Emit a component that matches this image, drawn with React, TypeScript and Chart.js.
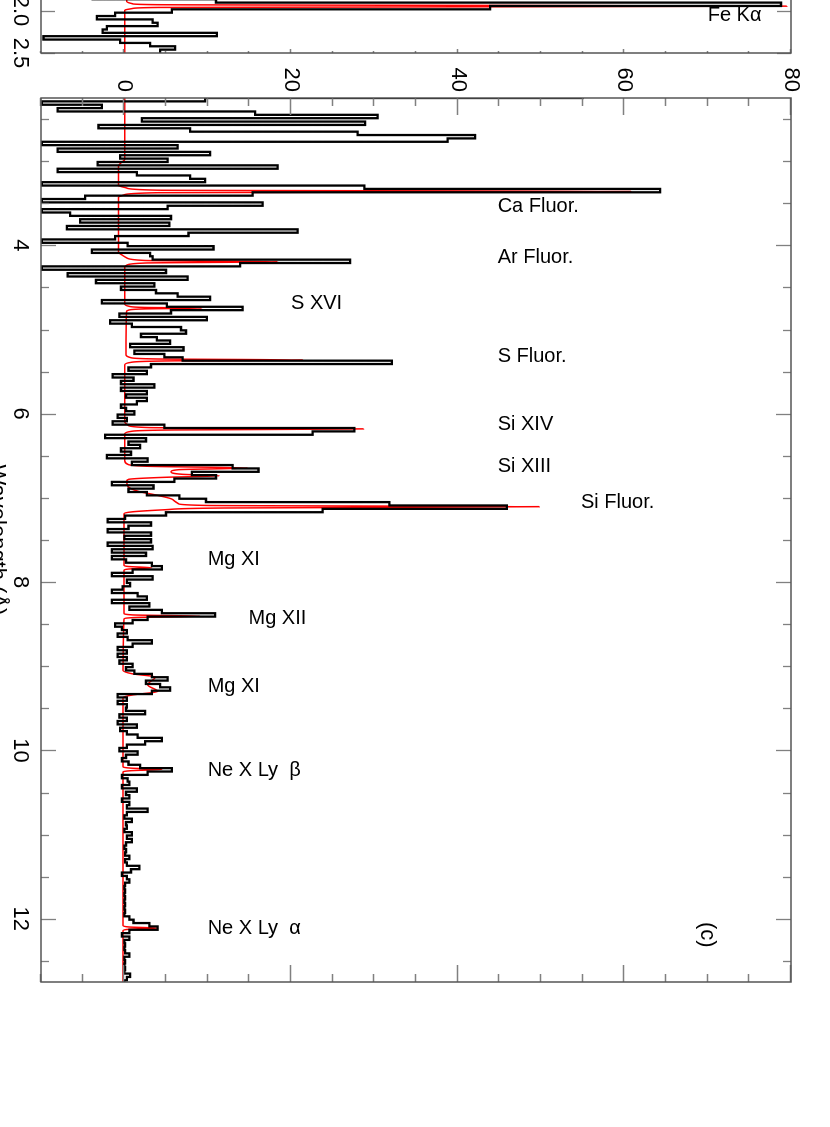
import React, { useEffect, useRef } from 'react';
import { Chart, registerables } from 'chart.js';

Chart.register(...registerables);

// ---------------- data ----------------
const BIN_WIDTH = 0.04; // Angstrom per histogram bin

// Panel (c): observed counts per 0.04 A bin, one array per segment
const SEG_START = [2.21, 3.25, 4.25, 5.25, 6.25, 7.25, 8.25, 9.25, 10.25, 11.25, 12.25];
const COUNTS_2 = [55, 9.7, -9.9, -2.7, -8.0, 15.7, 30.4, 2.1, 28.9, -3.1, 7.9, 28.0, 42.1, 38.8, -9.9, 6.4, -8.0, 10.3, -0.5, 5.2, -3.2, 18.4, -8.0, 1.5, 7.9, 9.7];
const COUNTS_3 = [-9.9, 28.8, 64.3, 15.4, -4.7, -9.9, 16.6, 5.2, -9.9, -6.5, 5.6, -5.3, 5.4, -6.9, 20.8, 7.7, -1.1, -9.9, 0.4, 10.7, -3.9, 3.1, 3.4, 27.1, 13.9];
const COUNTS_4 = [-9.9, 5.0, -6.8, 7.6, -3.4, 3.6, -0.4, 3.8, 6.4, 10.3, -2.7, 5.1, 14.2, 5.6, -0.6, 9.9, -1.7, 0.9, 6.8, 7.4, 2.0, 3.9, 5.5, 0.7, 7.1];
const COUNTS_5 = [1.2, 4.8, 7.0, 32.1, 3.2, 0.5, 2.7, -1.4, 1.1, -0.4, 3.6, -0.4, 2.7, 0.2, 2.7, 1.5, -0.4, 0.2, 1.2, -0.8, 0.3, -1.4, 4.8, 27.6, 22.6];
const COUNTS_6 = [-2.3, 2.6, 0.5, 1.9, -0.4, 0.8, -2.1, 2.8, 0.9, 13.0, 16.1, 8.1, 11.0, 6.0, -1.5, 3.5, 0.5, 2.7, 6.6, 9.8, 31.8, 45.9, 23.8, 5.0, 0.1];
const COUNTS_7 = [-2.0, 3.2, 0.5, -2.0, 3.2, 0.0, 3.2, -2.0, 3.4, -1.5, 2.6, -1.5, 0.2, 3.3, 4.5, 1.0, -1.5, 3.4, 0.3, 0.7, -0.2, -1.5, 1.6, 2.7, -1.5];
const COUNTS_8 = [3.0, 0.6, 4.5, 10.9, 2.8, 1.0, -1.1, -0.3, 0.3, -0.8, 0.4, 3.3, 1.0, -0.8, 0.3, -0.8, 0.3, -0.6, 1.0, 0.2, 1.2, 3.3, 5.2, 2.6, 4.3];
const COUNTS_9 = [5.5, 3.3, -0.8, 0.3, -0.8, 0.3, 0.2, 2.5, -0.6, 0.3, -0.8, 1.5, -0.5, 0.3, 1.6, 4.5, 2.5, 0.3, -0.6, 1.6, 0.2, -0.3, 0.5, 1.9, 5.7];
const COUNTS_10 = [2.8, -0.3, 0.4, 0.6, -0.3, 1.5, 0.2, 0.6, -0.3, 0.6, 0.3, 2.8, 0.3, 0.0, 0.9, 0.2, 0.3, 0.0, 0.9, 0.3, 0.9, 0.2, 0.0, 0.2, 0.1];
const COUNTS_11 = [0.6, 0.1, 0.3, 1.8, 0.8, -0.3, 0.3, 0.6, 0.1, 0.0, 0.1, 0.0, 0.1, 0.0, 0.1, 0.0, 0.1, 0.0, 0.6, 1.1, 3.0, 4.0, 0.6, -0.3, 0.6];
const COUNTS_12 = [0.0, 0.1, 0.0, 0.1, 0.6, 0.0, 0.1, 0.0, 0.1, 0.0, 0.7, 0.3, 0.0];
const SEGMENTS = [COUNTS_2, COUNTS_3, COUNTS_4, COUNTS_5, COUNTS_6, COUNTS_7, COUNTS_8, COUNTS_9, COUNTS_10, COUNTS_11, COUNTS_12];

// Panel (c): model curve (red)
const MODEL_WL = [2.25, 2.98, 3.02, 3.06, 3.29, 3.32, 3.345, 3.36, 3.375, 3.40, 3.43, 4.08, 4.12, 4.15, 4.18, 4.195, 4.21, 4.235, 4.26, 4.70, 4.725, 4.738, 4.745, 4.755, 4.77, 4.79, 5.30, 5.335, 5.35, 5.362, 5.372, 5.39, 5.42, 6.10, 6.14, 6.165, 6.18, 6.193, 6.21, 6.24, 6.56, 6.60, 6.625, 6.645, 6.665, 6.69, 6.72, 6.738, 6.755, 6.78, 6.80, 6.86, 6.92, 6.97, 7.02, 7.07, 7.09, 7.104, 7.12, 7.14, 7.165, 7.19, 7.80, 7.815, 7.83, 7.845, 7.86, 8.37, 8.39, 8.405, 8.42, 8.44, 9.05, 9.09, 9.127, 9.22, 9.30, 9.34, 9.37, 10.19, 10.21, 10.225, 10.24, 10.26, 12.08, 12.097, 12.11, 12.123, 12.14, 12.75];
const MODEL_VAL = [0.06, 0.06, -0.4, -0.7, -0.7, 0.3, 4, 60.8, 4, 0, -0.7, -0.7, -0.2, 0.3, 2.5, 18.4, 2.5, 0.3, 0.06, 0.06, 0.6, 2.5, 9.3, 2.5, 0.5, 0.25, 0.2, 0.8, 4, 21.4, 6, 0.8, 0.06, 0.06, 0.5, 3, 28.7, 6, 0.8, 0.06, 0.06, 0.4, 3, 14.8, 6.5, 5.6, 7, 11.4, 5, 0.5, 0.3, 0.4, 1.6, 4, 5.8, 6.5, 10, 49.8, 12, 5, 1, -0.05, -0.05, 0.5, 3.3, 0.5, -0.05, -0.05, 1, 9.1, 1.5, -0.05, -0.15, 1, 3.7, 2.8, 4.0, 1, -0.15, -0.15, 0.8, 4.5, 0.8, -0.15, -0.15, 0.6, 4.0, 0.6, -0.15, -0.15];

// Panel (b) (only its end is on the page)
const B_START = 1.82;
const B_COUNTS = [-3.8, 11.0, 78.8, 43.9, 5.7, -1.1, -3.3, 3.4, 4.0, -2.1, -2.6, 11.1, -9.7, -0.5, 3.1, 6.1, 4.3];
const B_MODEL_WL = [1.82, 1.89, 1.915, 1.925, 1.942, 1.958, 1.97, 1.99, 2.5];
const B_MODEL_VAL = [0.3, 0.3, 1, 4, 79.5, 4, 1, 0.06, 0.06];

// Axes
const WL_RANGE_C = [2.25, 12.75];
const WL_RANGE_B = [1.5, 2.5];
const COUNT_RANGE = [-10, 80];
const COUNT_TICKS = [0, 20, 40, 60, 80];
const COUNT_TICK_LABELS = ['0', '20', '40', '60', '80'];
const WL_TICKS_C = [4, 6, 8, 10, 12];
const WL_TICK_LABELS_C = ['4', '6', '8', '10', '12'];
const WL_TICKS_B = [1.5, 2.0, 2.5];
const WL_TICK_LABELS_B = ['1.5', '2.0', '2.5'];
const AXIS_TITLE = 'Wavelength (Å)';

// Line labels [text, wavelength, count]
const LINE_LABELS_C: [string, number, number][] = [
  ['Ca Fluor.', 3.533, 44.8],
  ['Ar Fluor.', 4.139, 44.8],
  ['S XVI', 4.685, 20.0],
  ['S Fluor.', 5.315, 44.8],
  ['Si XIV', 6.122, 44.8],
  ['Si XIII', 6.621, 44.8],
  ['Si Fluor.', 7.049, 54.8],
  ['Mg XI', 7.726, 10.0],
  ['Mg XII', 8.427, 14.9],
  ['Mg XI', 9.235, 10.0],
  ['Ne X Ly  β', 10.232, 10.0],
  ['Ne X Ly  α', 12.12, 10.0],
];
const LINE_LABELS_B: [string, number, number][] = [['Fe Kα', 2.049, 70.0]];
const PANEL_TAG = ['(c)', 12.19, 69.9] as const;

// ---------------- helpers ----------------
const FONT = '"Liberation Sans", Arial, Helvetica, sans-serif';

function histPoints(starts: number[], segs: number[][]) {
  const pts: { x: number; y: number }[] = [];
  segs.forEach((seg, s) => {
    seg.forEach((v, i) => pts.push({ x: starts[s] + i * BIN_WIDTH, y: v }));
  });
  const last = pts[pts.length - 1];
  pts.push({ x: last.x + BIN_WIDTH, y: last.y });
  return pts;
}
function linePoints(xs: number[], ys: number[]) {
  return xs.map((x, i) => ({ x, y: ys[i] }));
}

const frameTicks = {
  id: 'frameTicks',
  afterDatasetsDraw(chart: any, _a: any, o: any) {
    const { ctx, chartArea: a, scales } = chart;
    const x = scales.x, y = scales.y;
    ctx.save();
    ctx.strokeStyle = '#808080';
    ctx.lineWidth = 1.3;
    ctx.beginPath();
    for (let c = COUNT_RANGE[0]; c <= COUNT_RANGE[1]; c += 5) {
      const len = c % 20 === 0 ? o.cMajor : o.cMinor;
      const p = Math.round(y.getPixelForValue(c)) + 0.5;
      ctx.moveTo(a.left, p); ctx.lineTo(a.left + len, p);
      ctx.moveTo(a.right, p); ctx.lineTo(a.right - len, p);
    }
    const w0 = Math.ceil(x.min * 2) / 2;
    for (let w = w0; w <= x.max + 1e-9; w += 0.5) {
      const len = Math.abs(w / o.wMajorStep - Math.round(w / o.wMajorStep)) < 1e-6 ? o.wMajor : o.wMinor;
      const p = Math.round(x.getPixelForValue(w)) + 0.5;
      ctx.moveTo(p, a.bottom); ctx.lineTo(p, a.bottom - len);
      ctx.moveTo(p, a.top); ctx.lineTo(p, a.top + len);
    }
    ctx.stroke();
    ctx.strokeStyle = '#555555';
    ctx.lineWidth = 1.5;
    ctx.strokeRect(a.left, a.top, a.right - a.left, a.bottom - a.top);
    ctx.restore();
  },
  afterDraw(chart: any, _a: any, o: any) {
    const { ctx, chartArea: a, scales } = chart;
    const x = scales.x, y = scales.y;
    ctx.save();
    ctx.fillStyle = '#000';
    ctx.font = `20px ${FONT}`;
    ctx.textAlign = 'left';
    ctx.textBaseline = 'middle';
    for (const [t, w, c] of o.labels as [string, number, number][]) {
      ctx.save();
      ctx.translate(x.getPixelForValue(w), y.getPixelForValue(c));
      ctx.rotate(-Math.PI / 2);
      ctx.fillText(t, 0, 0);
      ctx.restore();
    }
    if (o.tag) {
      ctx.font = `22px ${FONT}`;
      ctx.textAlign = 'center';
      ctx.fillText(o.tag[0], x.getPixelForValue(o.tag[1]), y.getPixelForValue(o.tag[2]));
    }
    if (o.title) {
      ctx.font = `22px ${FONT}`;
      ctx.textAlign = 'center';
      ctx.textBaseline = 'alphabetic';
      ctx.fillText(o.title, (a.left + a.right) / 2, a.bottom + 50);
    }
    ctx.restore();
  },
};

function makeConfig(opts: {
  hist: { x: number; y: number }[];
  model: { x: number; y: number }[];
  wlRange: number[];
  wlTicks: number[];
  wlLabels: string[];
  padRight: number;
  yWidth: number;
  plugin: any;
}) {
  const tickFont = { family: FONT, size: 22 };
  return {
    type: 'line' as const,
    data: {
      datasets: [
        {
          data: opts.hist,
          borderColor: '#000000',
          borderWidth: 2.3,
          stepped: true,
          pointRadius: 0,
          fill: false,
        },
        {
          data: opts.model,
          borderColor: '#ff0000',
          borderWidth: 1.5,
          pointRadius: 0,
          cubicInterpolationMode: 'monotone' as const,
          fill: false,
        },
      ],
    },
    options: {
      animation: false as const,
      responsive: false,
      devicePixelRatio: 1,
      layout: { padding: { left: 0, right: opts.padRight, top: 39, bottom: 0 } },
      plugins: {
        legend: { display: false },
        tooltip: { enabled: false },
        frameTicks: opts.plugin,
      },
      scales: {
        x: {
          type: 'linear' as const,
          min: opts.wlRange[0],
          max: opts.wlRange[1],
          grid: { display: false, drawTicks: false },
          border: { display: false },
          ticks: {
            font: tickFont,
            color: '#000',
            padding: 8,
            maxRotation: 0,
            autoSkip: false,
            callback: (v: number) => {
              const i = opts.wlTicks.findIndex((t) => Math.abs(t - v) < 1e-9);
              return i >= 0 ? opts.wlLabels[i] : '';
            },
          },
          afterBuildTicks: (s: any) => {
            s.ticks = opts.wlTicks.map((value) => ({ value }));
          },
          afterFit: (s: any) => {
            s.height = 61;
          },
        },
        y: {
          type: 'linear' as const,
          min: COUNT_RANGE[0],
          max: COUNT_RANGE[1],
          grid: { display: false, drawTicks: false },
          border: { display: false },
          ticks: {
            font: tickFont,
            color: '#000',
            padding: 6,
            autoSkip: false,
            callback: (v: number) => {
              const i = COUNT_TICKS.indexOf(v);
              return i >= 0 ? COUNT_TICK_LABELS[i] : '';
            },
          },
          afterBuildTicks: (s: any) => {
            s.ticks = COUNT_TICKS.map((value) => ({ value }));
          },
          afterFit: (s: any) => {
            s.width = opts.yWidth;
          },
        },
      },
    },
    plugins: [frameTicks],
  };
}

export default function App() {
  const mainRef = useRef<HTMLCanvasElement>(null);
  const bRef = useRef<HTMLCanvasElement>(null);

  useEffect(() => {
    const main = new Chart(
      mainRef.current as HTMLCanvasElement,
      makeConfig({
        hist: histPoints(SEG_START, SEGMENTS),
        model: linePoints(MODEL_WL, MODEL_VAL),
        wlRange: WL_RANGE_C,
        wlTicks: WL_TICKS_C,
        wlLabels: WL_TICK_LABELS_C,
        padRight: 145,
        yWidth: 98,
        plugin: { cMajor: 17, cMinor: 8, wMajor: 15, wMinor: 8, wMajorStep: 2, labels: LINE_LABELS_C, tag: PANEL_TAG, title: AXIS_TITLE },
      }) as any
    );
    const b = new Chart(
      bRef.current as HTMLCanvasElement,
      makeConfig({
        hist: histPoints([B_START], [B_COUNTS]),
        model: linePoints(B_MODEL_WL, B_MODEL_VAL),
        wlRange: WL_RANGE_B,
        wlTicks: WL_TICKS_B,
        wlLabels: WL_TICK_LABELS_B,
        padRight: 47,
        yWidth: 69,
        plugin: { cMajor: 4, cMinor: 2, wMajor: 14, wMinor: 7, wMajorStep: 0.5, labels: LINE_LABELS_B, tag: null, title: null },
      }) as any
    );
    return () => {
      main.destroy();
      b.destroy();
    };
  }, []);

  return (
    <div
      style={{
        position: 'fixed',
        left: 0,
        top: 0,
        width: 1127,
        height: 850,
        transformOrigin: '0 0',
        transform: 'translateX(830px) rotate(90deg)',
        background: 'transparent',
      }}
    >
      <canvas ref={mainRef} width={1127} height={850} style={{ position: 'absolute', left: 0, top: 0 }} />
      <canvas ref={bRef} width={200} height={850} style={{ position: 'absolute', left: -100, top: 0 }} />
    </div>
  );
}
